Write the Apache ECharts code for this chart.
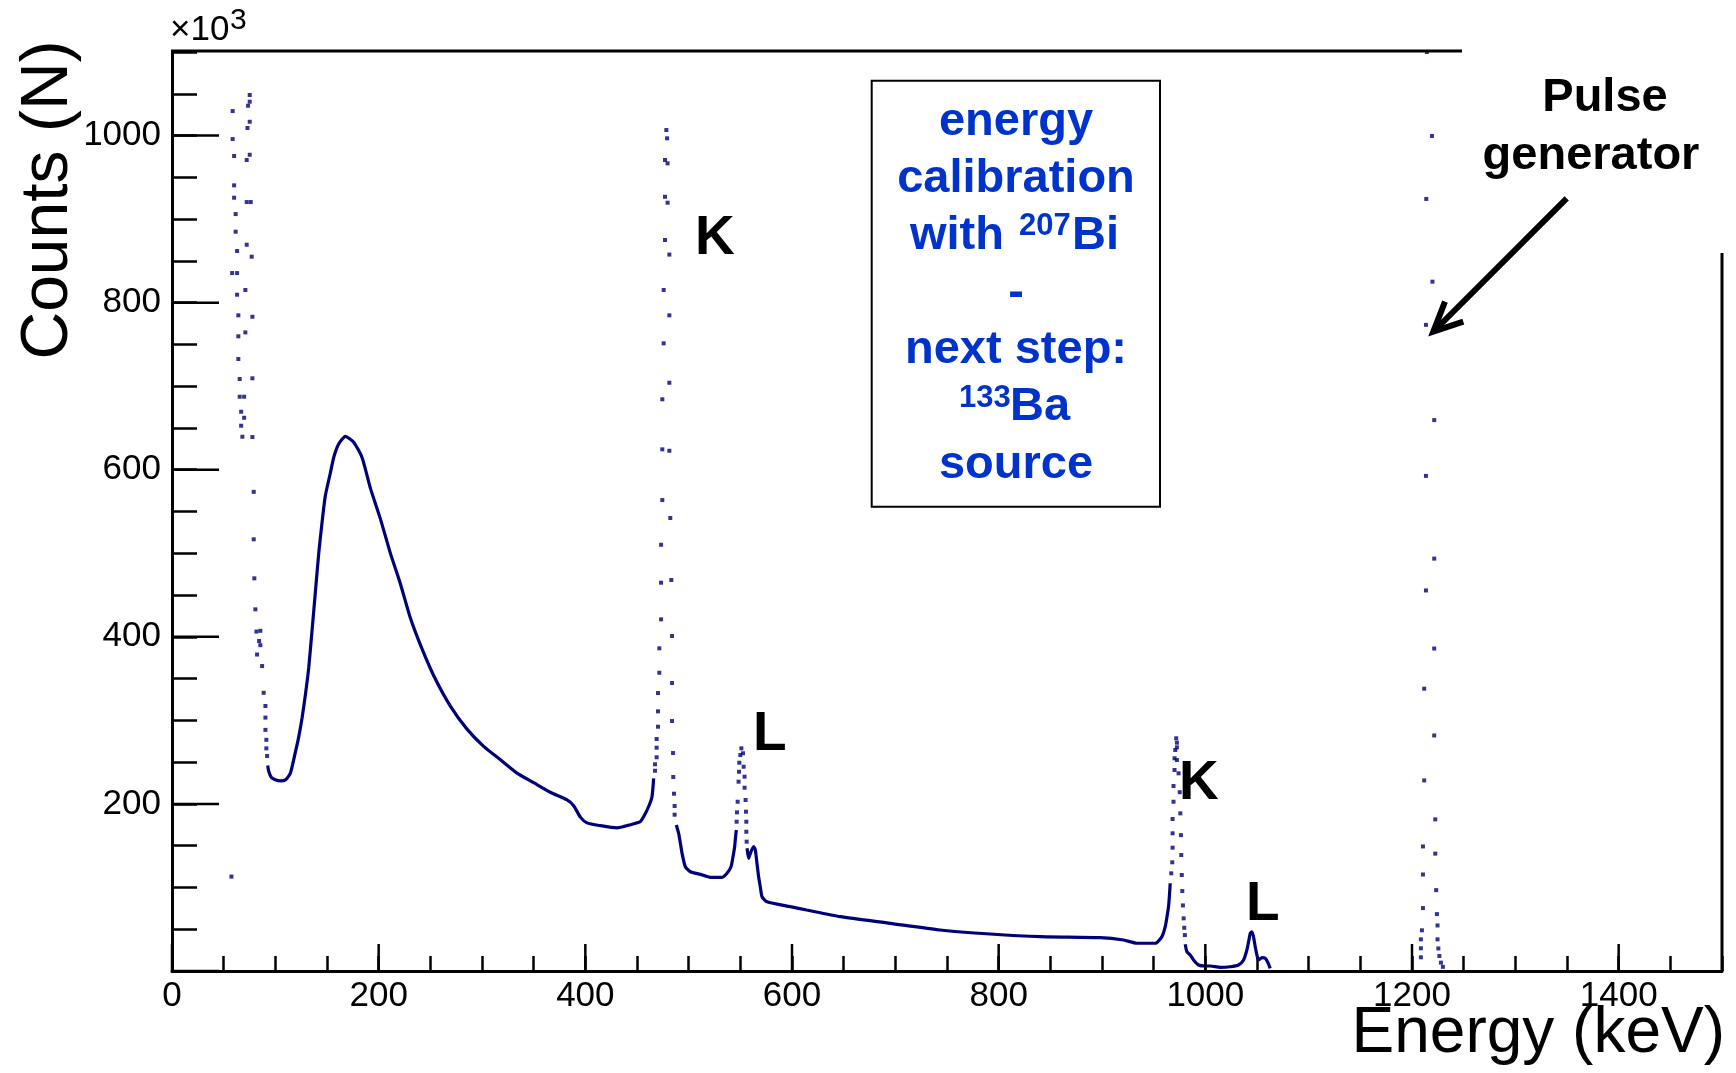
<!DOCTYPE html>
<html><head><meta charset="utf-8">
<script src="https://cdn.jsdelivr.net/npm/echarts@6/dist/echarts.min.js"></script>
<style>html,body{margin:0;padding:0;background:#fff}#c{width:1736px;height:1073px}</style>
</head><body><div id="c"></div>
<script>
// ---- data: continuous parts of the spectrum (null = gap) ----
const contEnergy = [
92.6, 93.6, 96, 100, 104.9, 110, 114.6, 119.4, 122.6, 125.9, 129.1, 132.3, 135.6, 138.8, 142, 145.2, 148.4, 153.3, 156.5, 161.3, 167.8, 175.8, 183.9, 192, 201.6, 211.3, 221, 230.7, 240.4, 253.2, 269.4, 285.5, 301.6, 317.8, 333.9, 350, 366.1, 382.3, 388.7, 395.2, 401.6, 414.5, 430.7, 443.5, 453.2, 456.4, 461.2, 464.5, 466.1,
null,
488, 490.3, 492, 493.6, 496.8, 501.6, 511.3, 521, 532.3, 537.1, 541, 542.9, 544.5, 545.1, 546.1,
null,
556.5, 558, 559.7, 562.8, 564.5, 566.1, 567.7, 569.3, 571, 575.8, 598.4, 614.2, 646.7, 695.1, 743.5, 791.9, 840.3, 898.3, 920.9, 933.8, 951.5, 958, 961.2, 962.9, 964.4, 965.4, 966,
null,
980.5, 982.2, 985.4, 988.6, 993.4, 1000, 1004.7, 1014.4, 1024.1, 1032.1, 1037, 1040.2, 1042.2, 1043.5, 1045.1, 1046.6, 1048.3, 1049.9, 1051.5, 1054.8, 1058, 1060.6, 1062.8
];
const contCounts = [
246, 239, 232, 229, 227.6, 229, 237, 262, 280, 303, 330.7, 362.8, 408.6, 454.3, 500, 536.8, 568.9, 596.4, 614.7, 630.7, 639.9, 633, 614.7, 578, 541.5, 500.2, 463.5, 422.4, 390.3, 353.7, 317, 289.5, 268.9, 252.9, 236.9, 225.4, 213.9, 204.8, 197.9, 184.2, 177.3, 174, 171.3, 175, 178.7, 184.7, 196.6, 208.6, 230.6,
null,
174.7, 164.8, 152.8, 140.9, 124.8, 118.8, 115.7, 112.1, 112.1, 116.9, 124.8, 136.8, 148.8, 156.8, 168.8,
null,
146.9, 134.9, 140.9, 148.8, 144.8, 128.9, 112.9, 100.9, 88.9, 82.9, 77, 73, 65, 57.1, 49.1, 44.3, 41.1, 39.9, 37.1, 33.2, 33.2, 41.1, 53, 65, 77, 93, 105,
null,
32, 23.1, 19.2, 13.2, 7.2, 6, 6, 4.4, 5.1, 7.2, 13.2, 25.1, 37.1, 45.1, 47, 41.1, 29.1, 19.2, 13.2, 15.9, 15.2, 9.9, 3.2
];
// ---- data: isolated bins in the steep peaks (drawn as dots) ----
const peakEnergy = [
57.5, 58.7, 58.7, 60.1, 60.1, 60.1, 61.6, 61.6, 63.0, 58.2, 63.0, 63.0, 64.2, 64.2, 64.2, 65.5, 65.5, 69.8, 66.9, 69.8, 66.9, 68.1,
75.2, 75.2, 73.6, 75.2, 73.0, 75.2, 72.3, 72.3, 76.2, 72.3, 77.1, 71.0, 77.8, 71.0, 77.8, 77.8,
79.1, 79.1, 79.7, 80.7, 81.7, 85.5, 84.3, 82.3, 85.5, 87.2, 88.7, 90.4, 90.4, 90.4, 91.3, 91.3, 92,
478.4, 479.1, 477.1, 479.6, 477.1, 479.6, 477.1, 481.3, 475.8, 481.3, 475.8, 481.3, 474.5, 474.5, 481.3, 474.5, 482.2, 473.3, 473.3, 483.2, 473.3, 483.9, 471.6, 471.6, 483.9, 470.3, 470.3, 483.9, 470.3, 469, 469, 469, 467.4, 467.4, 484.9, 485.1, 485.8, 486.4, 486.4,
546.4, 546.8, 547.4, 548.3, 548.7, 549, 550, 551, 552.6, 553.2, 554.1, 554.1, 555.1, 555.5, 555.8, 555.8, 556.1,
969.2, 969.2, 968.3, 968.3, 968.3, 968, 967, 970.2, 970.2, 971.8, 972.5, 972.5, 970.9, 972.5, 974.1, 975.2, 975.8, 976.4, 976.7, 977.2, 977.7, 978.3, 979, 979.6, 980.2,
1214.4, 1219.3, 1213.8, 1219.8, 1213.5, 1221.5, 1213.5, 1221.5, 1213.5, 1221.5, 1211.8, 1221.5, 1211.8, 1222.5, 1210.6, 1222.5, 1210.6, 1223.4, 1210.6, 1224.1, 1209.6, 1224.7, 1208.6, 1208.6, 1208.6, 1224.7, 1225.5, 1226.5, 1228, 1229.9
];
const peakCounts = [
113, 1029.3, 995.8, 975.5, 940.4, 925.6, 906, 884.9, 861.8, 835.4, 835.4, 809.5, 784.8, 759.7, 732.5, 708.6, 687.4, 687.4, 669.4, 662.2, 652.7, 639.5,
1048.5, 1040.5, 1035.7, 1016.5, 1009, 977, 970.7, 920.4, 920.4, 869.3, 855, 815.1, 783.1, 764.4, 709.4, 639.1,
573.5, 516.7, 470, 432.9, 406.3, 407.2, 395, 378.8, 390, 365, 333, 317.2, 303.3, 288.6, 276.7, 266.5, 257.4,
1006.6, 996.7, 970.7, 966.7, 926.7, 919.6, 875, 857.5, 815.1, 784.8, 751.3, 704.1, 684.3, 624.4, 622.7, 563.7, 542.2, 510.2, 464.8, 468, 420.9, 401, 386.2, 357, 344.7, 332.7, 310.8, 299.2, 292.4, 277.7, 267.3, 255.8, 247.4, 239.7, 260.9, 232.2, 212.2, 197.5, 187.1,
178.7, 189.9, 202.6, 226.6, 238.5, 249.3, 258.5, 266.5, 260.6, 244.5, 232.6, 219.4, 204.7, 190.7, 178.7, 166.7, 154.8,
221.4, 202.6, 181.9, 164.8, 147.6, 130.1, 116.9, 240.6, 254.6, 278.5, 273.3, 267.7, 264.5, 252.5, 236.6, 214, 188.7, 162.6, 138.8, 114.9, 95.7, 78.5, 63, 51.7, 43,
1100, 999.5, 924.1, 825.1, 773.4, 659.4, 592.6, 493.6, 455.5, 386, 337.9, 281.9, 228.1, 181.5, 149.1, 140.5, 115.5, 96.8, 75.3, 68.1, 48.7, 54.5, 37.9, 27.2, 16.4, 37.9, 27, 18, 10, 5
];
// ---- axes ----
const xRange = [0, 1500];
const yRange = [0, 1100];
const xMinorStep = 50;
const yMinorStep = 50;
const xMajorTicks = [0, 200, 400, 600, 800, 1000, 1200, 1400];
const yMajorTicks = [0, 200, 400, 600, 800, 1000];
const xTickLabels = [0, 200, 400, 600, 800, 1000, 1200, 1400];
const yTickLabels = [200, 400, 600, 800, 1000];

const NAVY = '#000078';
const BLUE = '#0033cc';
const FONT = 'Liberation Sans';

const segments = [];
let cur = [];
contEnergy.forEach((e, i) => {
  if (e === null) { if (cur.length) segments.push(cur); cur = []; }
  else cur.push([e, contCounts[i]]);
});
if (cur.length) segments.push(cur);
const dots = peakEnergy.map((e, i) => [e, peakCounts[i]]);

const L = 172, R = 1722, T = 52, B = 971, W = 1736, H = 1073;
const X_MAJOR_LEN = 27, Y_MAJOR_LEN = 47;
const gridBox = {left: L, right: W - R, top: T, bottom: H - B};

function txt(x, y, text, fs, o) {
  o = o || {};
  return {
    type: 'text', x: x, y: y, z: o.z || 100, rotation: o.rot || 0,
    style: {
      text: text, fontSize: fs, fontFamily: FONT, fontWeight: o.bold ? 'bold' : 'normal',
      fill: o.color || '#000',
      align: o.align || 'left', textAlign: o.align || 'left',
      verticalAlign: 'middle', textVerticalAlign: 'middle'
    }
  };
}

function tickAxis(gridIndex, range, step, len) {
  return {
    type: 'value', gridIndex: gridIndex, min: range[0], max: range[1], interval: step,
    axisLine: {show: false},
    axisTick: {show: true, inside: true, length: len, lineStyle: {color: '#000', width: 2.5}},
    axisLabel: {show: false}, splitLine: {show: false}
  };
}

const chart = echarts.init(document.getElementById('c'), null, {renderer: 'canvas'});
const series = segments.map(seg => ({
  type: 'line', xAxisIndex: 0, yAxisIndex: 0, data: seg,
  showSymbol: false, symbol: 'none', silent: true, smooth: 0.2,
  lineStyle: {color: NAVY, width: 3.2}, z: 3
}));
series.push({
  type: 'scatter', xAxisIndex: 0, yAxisIndex: 0, data: dots,
  symbol: 'rect', symbolSize: 4, silent: true,
  itemStyle: {color: NAVY}, z: 4
});

const fmt = v => String(v);
const g = box => Object.assign({outerBoundsMode: 'none', containLabel: false}, box);

chart.setOption({
  animation: false,
  backgroundColor: '#fff',
  grid: [g(gridBox), g(gridBox)],
  xAxis: [
    {
      type: 'value', gridIndex: 0, min: xRange[0], max: xRange[1], interval: xMinorStep, position: 'bottom',
      axisLine: {show: true, onZero: false, lineStyle: {color: '#000', width: 3}},
      axisTick: {show: false},
      axisLabel: {show: true, customValues: xTickLabels, formatter: fmt, fontSize: 35, fontFamily: FONT, color: '#000', margin: 8},
      splitLine: {show: false}
    },
    tickAxis(1, xRange, xMinorStep, 15)
  ],
  yAxis: [
    {
      type: 'value', gridIndex: 0, min: yRange[0], max: yRange[1], interval: yMinorStep, position: 'left',
      axisLine: {show: true, onZero: false, lineStyle: {color: '#000', width: 3}},
      axisTick: {show: false},
      axisLabel: {show: true, customValues: yTickLabels, formatter: fmt, fontSize: 35, fontFamily: FONT, color: '#000', margin: 11},
      splitLine: {show: false}
    },
    tickAxis(1, yRange, yMinorStep, 25)
  ],
  series: series
});

// major ticks: positions come from the chart's own scales
const finder = {xAxisIndex: 0, yAxisIndex: 0};
const origin = chart.convertToPixel(finder, [xRange[0], yRange[0]]);
const majorTicks = [];
xMajorTicks.forEach(v => {
  const p = chart.convertToPixel(finder, [v, yRange[0]]);
  majorTicks.push({type: 'line', z: 40, shape: {x1: p[0], y1: origin[1], x2: p[0], y2: origin[1] - X_MAJOR_LEN}, style: {stroke: '#000', lineWidth: 2.5}});
});
yMajorTicks.forEach(v => {
  const p = chart.convertToPixel(finder, [xRange[0], v]);
  majorTicks.push({type: 'line', z: 40, shape: {x1: origin[0], y1: p[1], x2: origin[0] + Y_MAJOR_LEN, y2: p[1]}, style: {stroke: '#000', lineWidth: 2.5}});
});

chart.setOption({
  graphic: majorTicks.concat([
    {type: 'line', z: 50, shape: {x1: 171, y1: 51, x2: 1462, y2: 51}, style: {stroke: '#000', lineWidth: 3}},
    {type: 'line', z: 50, shape: {x1: 1722, y1: 253, x2: 1722, y2: 971}, style: {stroke: '#000', lineWidth: 3}},
    txt(170, 30, '\u00d710', 35),
    txt(230, 20.5, '3', 30),
    txt(49, 200, 'Counts (N)', 66, {align: 'center', rot: Math.PI / 2}),
    txt(1725, 1034.8, 'Energy (keV)', 64, {align: 'right'}),
    txt(695, 239.3, 'K', 55, {bold: true}),
    txt(753, 734.7, 'L', 55, {bold: true}),
    txt(1179, 784.2, 'K', 55, {bold: true}),
    txt(1246, 904.5, 'L', 55, {bold: true}),
    {type: 'rect', z: 60, shape: {x: 871.7, y: 80.7, width: 288.3, height: 426}, style: {fill: '#fff', stroke: '#000', lineWidth: 2}},
    txt(1016, 122, 'energy', 47, {bold: true, color: BLUE, align: 'center', z: 70}),
    txt(1016, 178.7, 'calibration', 47, {bold: true, color: BLUE, align: 'center', z: 70}),
    txt(910, 236, 'with', 47, {bold: true, color: BLUE, z: 70}),
    txt(1019, 226, '207', 31, {bold: true, color: BLUE, z: 70}),
    txt(1072, 236, 'Bi', 47, {bold: true, color: BLUE, z: 70}),
    txt(1016, 292.7, '-', 47, {bold: true, color: BLUE, align: 'center', z: 70}),
    txt(1016, 350.4, 'next step:', 47, {bold: true, color: BLUE, align: 'center', z: 70}),
    txt(959, 398, '133', 31, {bold: true, color: BLUE, z: 70}),
    txt(1010, 407, 'Ba', 47, {bold: true, color: BLUE, z: 70}),
    txt(1016, 465.4, 'source', 47, {bold: true, color: BLUE, align: 'center', z: 70}),
    txt(1605, 98.5, 'Pulse', 47, {bold: true, align: 'center'}),
    txt(1591, 155.7, 'generator', 47, {bold: true, align: 'center'}),
    {type: 'line', z: 80, shape: {x1: 1566.7, y1: 198.3, x2: 1436, y2: 329}, style: {stroke: '#000', lineWidth: 6}},
    {type: 'polyline', z: 80, shape: {points: [[1445, 301.7], [1433.3, 331.7], [1463.3, 321.7]]}, style: {stroke: '#000', lineWidth: 6, fill: null, lineJoin: 'miter'}}
  ])
});
</script>
</body></html>
